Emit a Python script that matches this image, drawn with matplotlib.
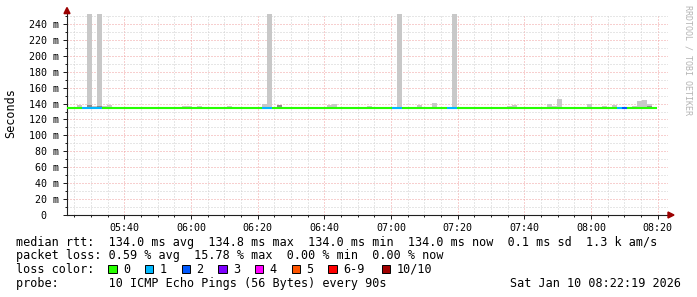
import numpy as np
import matplotlib
matplotlib.use("Agg")
import matplotlib.pyplot as plt
from matplotlib.patches import Polygon, Rectangle
from matplotlib.ticker import MultipleLocator, FuncFormatter

MONO = "DejaVu Sans Mono"
W, H = 697, 297

# 90 s RRD step, first sample starts 05:22:48 (minutes since midnight)
T0_MIN = 322.8
STEP_MIN = 1.5

# median rtt per step (ms)
median = [134, 134, 134, 134, 134, 134, 134, 134, 134, 134,
          134, 134, 134, 135, 134, 134, 134, 134, 134, 134,
          134, 134, 134, 134, 134, 134, 134, 134, 134, 134,
          134, 134, 134, 134, 134, 134, 134, 134, 134, 134,
          134, 134, 134, 134, 134, 134, 134, 134, 134, 134,
          134, 134, 134, 134, 134, 134, 134, 134, 134, 134,
          134, 134, 134, 134, 134, 135, 134, 134, 134, 134,
          134, 134, 134, 134, 134, 134, 134, 134, 134, 134,
          134, 134, 134, 134, 134, 134, 134, 134, 134, 134,
          134, 134, 134, 134, 134, 134, 134, 134, 134, 134,
          134, 134, 134, 134, 134, 134, 134, 134, 134, 134,
          134, 134, 134, 134, 134, 134, 134, 134]

# highest ping of the step (ms) - light smoke
smoke_max = [134, 134, 138, 134, 252, 137, 252, 137, 138, 135.5,
             134, 134, 134, 134, 134, 134, 134, 134, 134, 134,
             134, 134, 134, 137, 137, 134, 137, 134, 134, 134,
             136, 136, 137, 136, 136, 134, 134, 134, 135.5, 139,
             252, 136, 138, 134, 134, 134, 136, 134, 134, 134,
             134, 134, 138, 139, 136, 134, 134, 134, 134, 134,
             137, 134, 134, 134, 134, 134, 252, 136, 134, 136,
             138, 134, 136, 140.5, 134, 134, 134, 252, 134, 134,
             134, 136, 136, 134, 134, 134, 134, 134, 137, 138,
             136, 134, 134, 134, 134, 136, 139, 137, 146, 134,
             134, 134, 134, 134, 139, 136, 134, 137, 136, 138,
             134, 134, 134, 137, 143.5, 144.5, 139, 134]

# denser smoke (ms), 0 = none
smoke_dense = [0, 0, 0, 0, 138, 0, 137, 0, 0, 0,
               0, 0, 0, 0, 0, 0, 0, 0, 0, 0,
               0, 0, 0, 0, 0, 0, 0, 0, 0, 0,
               0, 0, 0, 0, 0, 0, 0, 0, 0, 0,
               0, 0, 138, 0, 0, 0, 0, 0, 0, 0,
               0, 0, 0, 0, 0, 0, 0, 0, 0, 0,
               0, 0, 0, 0, 0, 0, 0, 0, 0, 0,
               0, 0, 0, 0, 0, 0, 0, 0, 0, 0,
               0, 136, 0, 0, 0, 0, 0, 0, 0, 0,
               0, 0, 0, 0, 0, 0, 0, 0, 0, 0,
               0, 0, 0, 0, 0, 0, 0, 0, 0, 0,
               0, 0, 0, 0, 0, 0, 137, 0]

# lost pings out of 10 per step
loss = [0, 0, 0, 1, 1, 1, 1, 0, 0, 0,
        0, 0, 0, 0, 0, 0, 0, 0, 0, 0,
        0, 0, 0, 0, 0, 0, 0, 0, 0, 0,
        0, 0, 0, 0, 0, 0, 0, 0, 0, 1,
        1, 0, 0, 0, 0, 0, 0, 0, 0, 0,
        0, 0, 0, 0, 0, 0, 0, 0, 0, 0,
        0, 0, 0, 0, 0, 1, 1, 0, 0, 0,
        0, 0, 0, 0, 0, 0, 1, 1, 0, 0,
        0, 0, 0, 0, 0, 0, 0, 0, 0, 0,
        0, 0, 0, 0, 0, 0, 0, 0, 0, 0,
        0, 0, 0, 0, 0, 0, 0, 0, 0, 0,
        1, 2, 0, 0, 0, 0, 0, 0]

loss_labels = ["0", "1", "2", "3", "4", "5", "6-9", "10/10"]
loss_colors = ["#26ff00", "#00b8ff", "#0059ff", "#7e00ff",
               "#ff00ff", "#ff5500", "#ff0000", "#a10000"]

stats_lines = [
    "median rtt:  134.0 ms avg  134.8 ms max  134.0 ms min  134.0 ms now  0.1 ms sd  1.3 k am/s",
    "packet loss: 0.59 % avg  15.78 % max  0.00 % min  0.00 % now",
]
probe_text = "probe:       10 ICMP Echo Pings (56 Bytes) every 90s"
stamp_text = "Sat Jan 10 08:22:19 2026"


def loss_color(n):
    if n <= 5:
        return loss_colors[n]
    if n < 10:
        return loss_colors[6]
    return loss_colors[7]


def fx(x):
    return x / W


def fy(y):
    return 1 - y / H


median = np.array(median, dtype=float)
smoke_max = np.array(smoke_max, dtype=float)
smoke_dense = np.array(smoke_dense, dtype=float)
times = T0_MIN + STEP_MIN * np.arange(len(median))

fig = plt.figure(figsize=(W / 100, H / 100), dpi=100)
fig.patch.set_facecolor("white")
ax = fig.add_axes([fx(67), fy(215), fx(668) - fx(67), fy(13.6) - fy(215)])

# smoke
ax.bar(times, smoke_max - median, bottom=median, width=STEP_MIN, align="edge",
       color="#c8c8c8", linewidth=0, zorder=2)
dense = smoke_dense > 0
ax.bar(times[dense], smoke_dense[dense] - median[dense], bottom=median[dense],
       width=STEP_MIN, align="edge", color="#8c8c8c", linewidth=0, zorder=3)

# median line coloured by loss
ax.hlines(median, times, times + STEP_MIN, colors=[loss_color(n) for n in loss],
          linewidth=1.5, zorder=4)

ax.set_xlim(T0_MIN, T0_MIN + STEP_MIN * 120.2)
ax.set_ylim(0, 253)

ax.xaxis.set_major_locator(MultipleLocator(20))
ax.xaxis.set_minor_locator(MultipleLocator(5))
ax.yaxis.set_major_locator(MultipleLocator(20))
ax.yaxis.set_minor_locator(MultipleLocator(10))
ax.xaxis.set_major_formatter(FuncFormatter(lambda v, p: "%02d:%02d" % (int(v // 60), int(round(v % 60)))))
ax.yaxis.set_major_formatter(FuncFormatter(lambda v, p: "0  " if v == 0 else "%d m" % v))

ax.grid(which="minor", color="#cfcfcf", linestyle=(0, (1, 2)), linewidth=0.72)
ax.grid(which="major", color="#f0a0a0", linestyle=(0, (1, 2)), linewidth=0.72)
ax.set_axisbelow(True)

for s in ["top", "right"]:
    ax.spines[s].set_visible(False)
for s in ["left", "bottom"]:
    ax.spines[s].set_linewidth(0.8)
    ax.spines[s].set_color("#202020")

ax.tick_params(which="major", length=3, width=0.72, color="#202020", pad=2.5,
               labelsize=7.2)
ax.tick_params(which="minor", length=1.5, width=0.72, color="#202020")
for lab in ax.get_xticklabels() + ax.get_yticklabels():
    lab.set_fontfamily(MONO)

fig.text(fx(11), fy(113), "Seconds", rotation=90, ha="center", va="center",
         fontfamily=MONO, fontsize=8.5)

# axis arrows
arrow_c = "#9b0000"
fig.add_artist(Polygon([(fx(64), fy(13.6)), (fx(70), fy(13.6)), (fx(67), fy(7.5))],
                       closed=True, color=arrow_c, transform=fig.transFigure))
fig.add_artist(Polygon([(fx(668), fy(212)), (fx(668), fy(218)), (fx(674), fy(215))],
                       closed=True, color=arrow_c, transform=fig.transFigure))

# watermark
fig.text(fx(688), fy(5), "RRDTOOL / TOBI OETIKER", rotation=270, ha="center", va="top",
         fontfamily=MONO, fontsize=6, color="#b4b4b4")

# legend / stats
baselines = [245.8, 259.4, 273.0, 286.8]
for i, line in enumerate(stats_lines):
    fig.text(fx(16), fy(baselines[i]), line, fontfamily=MONO, fontsize=8.5,
             va="baseline", ha="left")
fig.text(fx(16), fy(baselines[2]), "loss color:", fontfamily=MONO, fontsize=8.5,
         va="baseline", ha="left")
sq_x = [108.3, 145.0, 181.7, 218.3, 255.0, 291.7, 328.3, 381.7]
for x, lab, col in zip(sq_x, loss_labels, loss_colors):
    fig.add_artist(Rectangle((fx(x), fy(273.3)), fx(8.4), fy(265) - fy(273.3),
                             facecolor=col, edgecolor="black", linewidth=0.7,
                             transform=fig.transFigure))
    fig.text(fx(x + 14.5), fy(baselines[2]), lab, fontfamily=MONO, fontsize=8.5,
             va="baseline", ha="left")
fig.text(fx(16), fy(baselines[3]), probe_text, fontfamily=MONO, fontsize=8.5,
         va="baseline", ha="left")
fig.text(fx(681), fy(baselines[3]), stamp_text, fontfamily=MONO, fontsize=8.5,
         va="baseline", ha="right")

fig.savefig("out.png", dpi=100, facecolor="white")
